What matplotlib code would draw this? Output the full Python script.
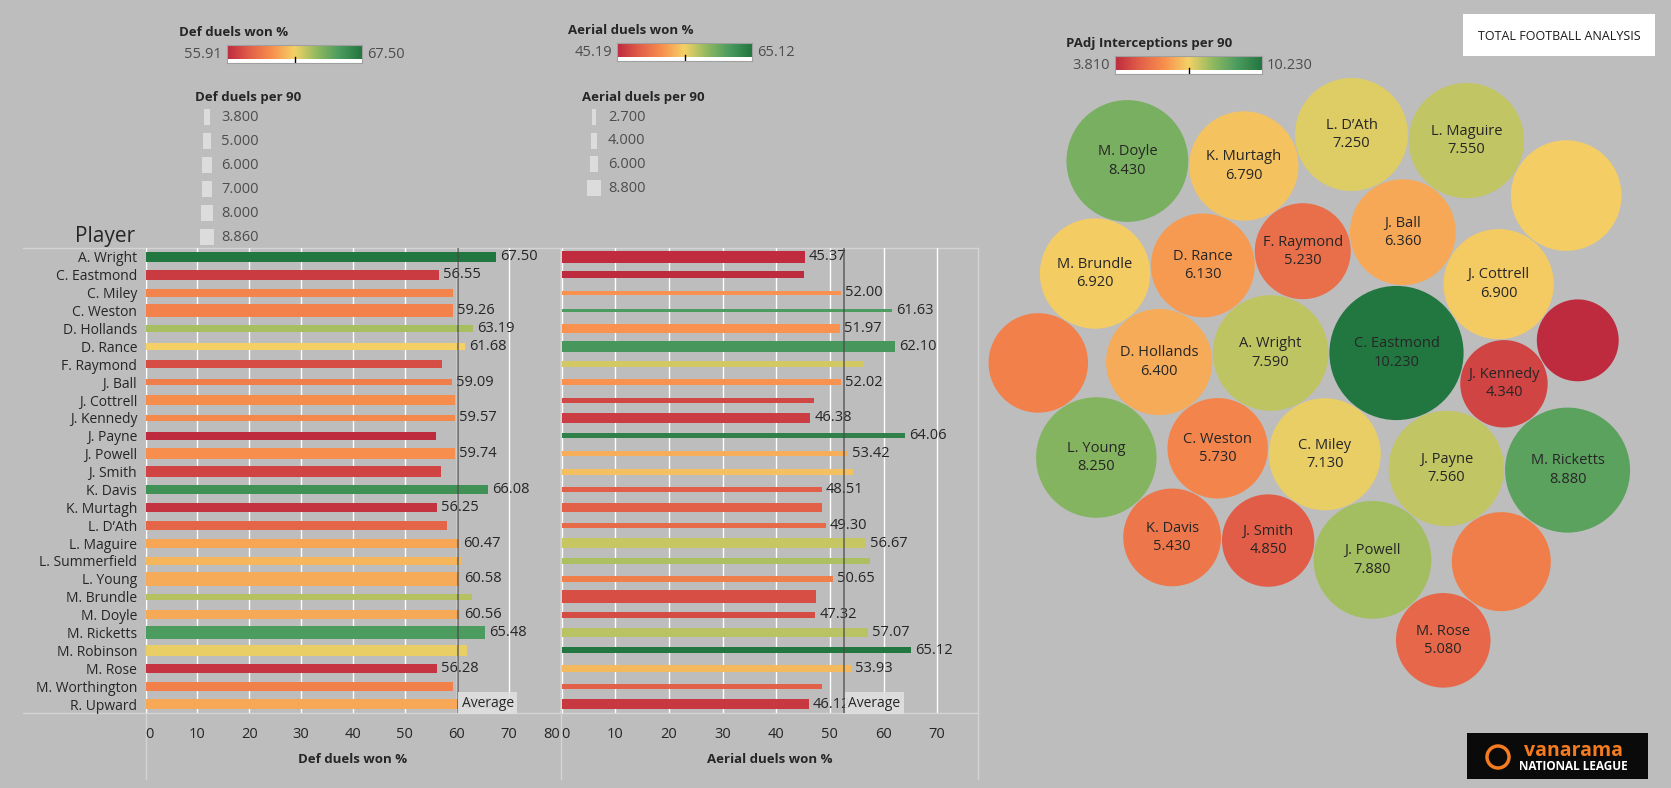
import numpy as np
from matplotlib import pyplot as plt
from matplotlib.colors import LinearSegmentedColormap, Normalize
from matplotlib.patches import Circle, Rectangle

players = ['A. Wright', 'C. Eastmond', 'C. Miley', 'C. Weston', 'D. Hollands', 'D. Rance',
           'F. Raymond', 'J. Ball', 'J. Cottrell', 'J. Kennedy', 'J. Payne', 'J. Powell',
           'J. Smith', 'K. Davis', 'K. Murtagh', 'L. D\u2019Ath', 'L. Maguire', 'L. Summerfield',
           'L. Young', 'M. Brundle', 'M. Doyle', 'M. Ricketts', 'M. Robinson', 'M. Rose',
           'M. Worthington', 'R. Upward']

# Def duels won %, and which bars carry a label in the original
def_won = [67.50, 56.55, 59.35, 59.26, 63.19, 61.68, 57.20, 59.09, 59.70, 59.57, 55.91, 59.74, 56.90,
           66.08, 56.25, 58.10, 60.47, 60.90, 60.58, 62.90, 60.56, 65.48, 61.90, 56.28, 59.20, 60.52]
def_shown = [1, 1, 0, 1, 1, 1, 0, 1, 0, 1, 0, 1, 0, 1, 1, 0, 1, 0, 1, 0, 1, 1, 0, 1, 0, 1]
# Def duels per 90 (bar thickness)
def_p90 = [6.09, 6.57, 5.19, 8.44, 4.29, 4.98, 4.98, 4.29, 6.57, 3.80, 5.39, 7.06, 7.06,
           5.88, 5.88, 6.09, 5.88, 5.67, 8.86, 3.80, 5.39, 8.17, 7.06, 6.09, 5.88, 7.06]

# Aerial duels won %
aer_won = [45.37, 45.19, 52.00, 61.63, 51.97, 62.10, 56.30, 52.02, 47.00, 46.38, 64.06, 53.42, 54.30,
           48.51, 48.60, 49.30, 56.67, 57.50, 50.65, 47.50, 47.32, 57.07, 65.12, 53.93, 48.60, 46.12]
aer_shown = [1, 0, 1, 1, 1, 1, 0, 1, 0, 1, 1, 1, 0, 1, 0, 1, 1, 0, 1, 0, 1, 1, 1, 1, 0, 1]
aer_p90 = [8.43, 4.77, 3.31, 2.70, 6.36, 6.97, 4.16, 4.77, 3.74, 6.79, 3.74, 3.92, 4.35,
           4.16, 6.18, 3.74, 6.60, 4.16, 4.16, 8.80, 4.35, 5.75, 4.35, 4.96, 3.74, 6.36]

# PAdj Interceptions per 90 (bubble size and colour)
interceptions = [7.59, 10.23, 7.13, 5.73, 6.40, 6.13, 5.23, 6.36, 6.90, 4.34, 7.56, 7.88, 4.85,
                 5.43, 6.79, 7.25, 7.55, 5.62, 8.25, 6.92, 8.43, 8.88, 6.95, 5.08, 5.57, 3.81]
bubble_shown = [1, 1, 1, 1, 1, 1, 1, 1, 1, 1, 1, 1, 1, 1, 1, 1, 1, 0, 1, 1, 1, 1, 0, 1, 0, 0]

def_legend = [3.8, 5.0, 6.0, 7.0, 8.0, 8.86]
aer_legend = [2.7, 4.0, 6.0, 8.8]

# packed bubble layout: each bubble touches the two named ones (side picks the solution)
pack_steps = [
    ('A. Wright', 'C. Eastmond', None, 180),
    ('C. Miley', 'C. Eastmond', 'A. Wright', -1),
    ('C. Weston', 'A. Wright', 'C. Miley', 1),
    ('D. Hollands', 'A. Wright', 'C. Weston', 1),
    ('D. Rance', 'A. Wright', 'D. Hollands', 1),
    ('F. Raymond', 'A. Wright', 'D. Rance', 1),
    ('J. Ball', 'C. Eastmond', 'F. Raymond', 1),
    ('J. Cottrell', 'C. Eastmond', 'J. Ball', 1),
    ('J. Kennedy', 'C. Eastmond', 'J. Cottrell', 1),
    ('J. Payne', 'C. Eastmond', 'J. Kennedy', 1),
    ('R. Upward', 'J. Cottrell', 'J. Kennedy', -1),
    ('M. Ricketts', 'J. Kennedy', 'J. Payne', -1),
    ('M. Worthington', 'J. Payne', 'M. Ricketts', 1),
    ('J. Powell', 'C. Miley', 'J. Payne', 1),
    ('M. Rose', 'J. Powell', 'M. Worthington', 1),
    ('J. Smith', 'C. Miley', 'J. Powell', 1),
    ('K. Davis', 'C. Weston', 'J. Smith', 1),
    ('L. Young', 'D. Hollands', 'K. Davis', 1),
    ('M. Brundle', 'D. Hollands', 'D. Rance', -1),
    ('L. Summerfield', 'L. Young', 'M. Brundle', -1),
    ('K. Murtagh', 'D. Rance', 'F. Raymond', -1),
    ('M. Doyle', 'M. Brundle', 'K. Murtagh', -1),
    ('L. D\u2019Ath', 'K. Murtagh', 'J. Ball', -1),
    ('L. Maguire', 'L. D\u2019Ath', 'J. Ball', -1),
    ('M. Robinson', 'L. Maguire', 'J. Cottrell', -1),
]

W, H = 1671, 788
BG = '#bdbdbd'
TXT = '#262626'
plt.rcParams['font.family'] = ['Open Sans', 'DejaVu Sans']

cmap = LinearSegmentedColormap.from_list(
    'rgg', ['#be2a3e', '#e25f48', '#f88f4d', '#f4d166', '#90b960', '#4b9b5f', '#22763f'])

fig = plt.figure(figsize=(W / 100, H / 100), dpi=100, facecolor=BG)


def rect(x, y, w, h):
    # pixel box (top-left origin) -> figure fraction
    return [x / W, 1 - (y + h) / H, w / W, h / H]


ov = fig.add_axes([0, 0, 1, 1])
ov.set_xlim(0, W)
ov.set_ylim(H, 0)
ov.axis('off')

pitch = 465 / len(players)


def def_thick(v):
    return 6 + (v - 3.8) / 0.693


def aer_thick(v):
    return 3.3 + (v - 2.7) / 0.61


# table frame lines
line_c = '#d4d4d4'
for yy in (248, 713):
    ov.plot([23, 978], [yy, yy], color=line_c, lw=1)
for xx in (145.5, 561, 978):
    ov.plot([xx, xx], [248, 779], color=line_c, lw=1)


def bar_pane(box, won, p90, thick, xmax, shown, title, right_label):
    ax = fig.add_axes(rect(*box))
    ax.patch.set_alpha(0)
    y = np.arange(len(players))
    won = np.array(won)
    norm = Normalize(won.min(), won.max())
    h = [thick(v) / pitch for v in p90]
    ax.barh(y, won, height=h, color=cmap(norm(won)), zorder=2)
    ax.set_xlim(0, xmax)
    ax.set_ylim(len(players) - 0.5, -0.5)
    ticks = list(range(0, int(xmax) + 1, 10))
    ax.set_xticks(ticks, [str(t) for t in ticks])
    ax.grid(axis='x', color='white', lw=1.0, zorder=0)
    ax.set_axisbelow(True)
    for s in ax.spines.values():
        s.set_visible(False)
    ax.tick_params(axis='x', length=0, pad=10, labelsize=10.5, labelcolor=TXT)
    labels = ax.get_xticklabels()
    labels[0].set_horizontalalignment('left')
    if right_label:
        labels[-1].set_horizontalalignment('right')
    for i, v in enumerate(won):
        if shown[i]:
            ax.annotate(f'{v:.2f}', (v, i), xytext=(4, 0), textcoords='offset pixels',
                        va='center', ha='left', fontsize=10.5, color=TXT, zorder=3)
    m = won.mean()
    ax.axvline(m, color='#4a4a4a', lw=1.3, alpha=0.7, zorder=4)
    ax.annotate('Average', (m, len(players) - 1), xytext=(4, 1), textcoords='offset pixels',
                va='center', ha='left', fontsize=10, color=TXT, zorder=5,
                bbox=dict(boxstyle='square,pad=0.25', fc='#e0e0e0', ec='none', alpha=0.9))
    ax.set_xlabel(title, fontsize=9.5, fontweight='bold', color=TXT, labelpad=8)
    return ax


ax1 = bar_pane((145.5, 248, 415, 465), def_won, def_p90, def_thick, 80, def_shown,
               'Def duels won %', True)
ax1.set_yticks(np.arange(len(players)), players)
ax1.tick_params(axis='y', length=0, pad=6, labelsize=10, labelcolor=TXT)

ax2 = bar_pane((561.5, 248, 416.5, 465), aer_won, aer_p90, aer_thick, 77.6, aer_shown,
               'Aerial duels won %', False)
ax2.set_yticks([])

ov.text(75, 236, 'Player', fontsize=15, color=TXT, va='center', ha='left')


def color_legend(x, y, w, h, lo, hi, title, tx, ty, fmt):
    cax = fig.add_axes(rect(x, y, w, h))
    cax.imshow(np.linspace(0, 1, 256)[None, :], aspect='auto', cmap=cmap, extent=(0, 1, 0, 1))
    cax.set_xticks([])
    cax.set_yticks([])
    for s in cax.spines.values():
        s.set_color('#a0a0a0')
        s.set_linewidth(0.8)
    cax.plot([0.5, 0.5], [-0.2, 0.15], color='black', lw=1, clip_on=False)
    ov.text(tx, ty, title, fontsize=9.5, fontweight='bold', color=TXT, va='center', ha='left')
    ov.text(x - 5, y + h / 2, fmt.format(lo), fontsize=10.5, color='#4d4d4d', va='center', ha='right')
    ov.text(x + w + 5, y + h / 2, fmt.format(hi), fontsize=10.5, color='#4d4d4d', va='center', ha='left')


color_legend(227, 45, 135, 18, min(def_won), max(def_won), 'Def duels won %', 179, 32, '{:.2f}')
color_legend(617, 43, 135, 18, min(aer_won), max(aer_won), 'Aerial duels won %', 568, 30, '{:.2f}')
color_legend(1115, 56, 147, 18, min(interceptions), max(interceptions), 'PAdj Interceptions per 90',
             1066, 43, '{:.3f}')


def size_legend(cx, tx, y0, step, values, thick, title, title_x):
    ov.text(title_x, y0 - 20, title, fontsize=9.5, fontweight='bold', color=TXT, va='center', ha='left')
    for k, v in enumerate(values):
        yy = y0 + k * step
        t = thick(v)
        ov.add_patch(Rectangle((cx - t / 2, yy - 8), t, 16, fc='#dcdcdc', ec='none'))
        ov.text(tx, yy, f'{v:.3f}', fontsize=10.5, color='#4d4d4d', va='center', ha='left')


size_legend(207, 221, 117, 24, def_legend, def_thick, 'Def duels per 90', 195)
size_legend(594, 608, 117, 23.7, aer_legend, aer_thick, 'Aerial duels per 90', 582)

# packed bubbles, area proportional to interceptions
vals = dict(zip(players, interceptions))
rad = {p: np.sqrt(440 * v) for p, v in vals.items()}
gap = 1.0
pos = {'C. Eastmond': np.array([0.0, 0.0])}
for name, a, b, side in pack_steps:
    if b is None:
        ang = np.radians(side)
        pos[name] = pos[a] + (rad[a] + rad[name] + gap) * np.array([np.cos(ang), np.sin(ang)])
        continue
    A, B = pos[a], pos[b]
    da = rad[a] + rad[name] + gap
    db = rad[b] + rad[name] + gap
    d = np.linalg.norm(B - A)
    u = (B - A) / d
    along = (da ** 2 - db ** 2 + d ** 2) / (2 * d)
    hh = np.sqrt(max(da ** 2 - along ** 2, 0))
    perp = np.array([-u[1], u[0]])
    pos[name] = A + along * u + side * hh * perp

origin = np.array([1396.5, 353.0])
nb = Normalize(min(interceptions), max(interceptions))
for i, p in enumerate(players):
    c = origin + pos[p]
    ov.add_patch(Circle(c, rad[p], fc=cmap(nb(vals[p])), ec='none'))
    if bubble_shown[i]:
        ov.text(c[0], c[1], f'{p}\n{vals[p]:.3f}', fontsize=10.5, color=TXT, ha='center',
                va='center', linespacing=1.3)

# logos
ov.add_patch(Rectangle((1463, 14), 192, 42, fc='white', ec='none'))
ov.text(1559, 36, 'TOTAL FOOTBALL ANALYSIS', fontsize=9, color='#1a1a1a', ha='center',
        va='center')
ov.add_patch(Rectangle((1467, 733), 181, 46, fc='#0a0a0a', ec='none'))
ov.add_patch(Circle((1498, 757), 11, fc='none', ec='#f47b20', lw=2.5))
ov.text(1573, 751, 'vanarama', fontsize=14, fontweight='bold', color='#f47b20', ha='center',
        va='center')
ov.text(1573, 767, 'NATIONAL LEAGUE', fontsize=8.5, fontweight='bold', color='white',
        ha='center', va='center')

fig.savefig('out.png', dpi=100, facecolor=BG)
